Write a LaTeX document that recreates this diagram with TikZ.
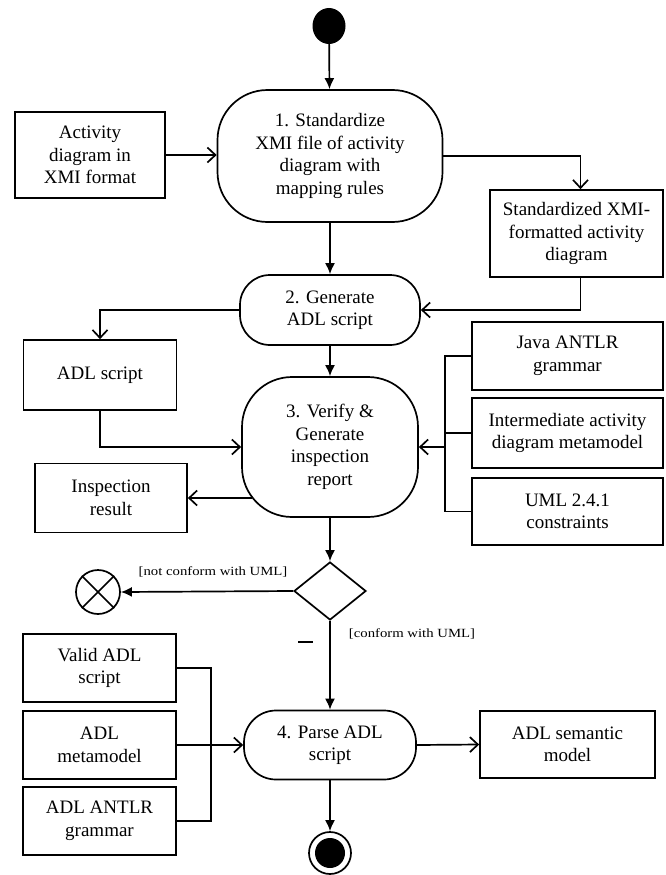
\documentclass[tikz,border=0pt]{standalone}
\usepackage{fontspec}
\setmainfont{Liberation Serif}
\newfontfamily\lblfont{Liberation Serif}[FakeStretch=1.18]
\usetikzlibrary{arrows.meta,shapes.geometric,calc}
\begin{document}
\begin{tikzpicture}[x=1pt,y=-1pt,
  lw/.style={line width=1.7pt},
  box/.style={draw,lw,rectangle,align=center,inner sep=0pt,font=\fontsize{19}{22.5}\selectfont},
  act/.style={draw,lw,align=center,inner sep=0pt,font=\fontsize{19}{22.5}\selectfont},
  flow/.style={lw,-{Latex[length=11pt,width=10pt]}},
  data/.style={lw,-{Straight Barb[length=8pt,width=15pt]}},
  lbl/.style={font=\lblfont\fontsize{12.5}{14}\selectfont,inner sep=0pt}
]
\useasboundingbox (0,0) rectangle (665,875);

% main flow nodes
\node[ellipse,fill,minimum width=33pt,minimum height=36pt,inner sep=0pt] (init) at (329,26) {};
\node[act,rounded corners=50pt,minimum width=225pt,minimum height=132pt] (n1) at (330,156)
  {1. Standardize\\XMI file of activity\\diagram with\\mapping rules};
\node[act,rounded corners=30pt,minimum width=180pt,minimum height=70pt] (n2) at (330,310)
  {2. Generate\\ADL script};
\node[act,rounded corners=50pt,minimum width=176pt,minimum height=140pt] (n3) at (330,447)
  {3. Verify \&\\Generate\\inspection\\report};
\node[draw,lw,diamond,minimum width=72pt,minimum height=58pt,inner sep=0pt] (dia) at (330,591) {};
\node[draw,lw,circle,minimum size=44pt,inner sep=0pt] (ff) at (98,592) {};
\node[act,rounded corners=32pt,minimum width=172pt,minimum height=69pt] (n4) at (330,745)
  {4. Parse ADL\\script};
\node[draw,lw,circle,minimum size=42pt,inner sep=0pt] (fin) at (330,853) {};
\fill (fin.center) circle (15pt);
\draw[lw] (ff.north west) -- (ff.south east);
\draw[lw] (ff.north east) -- (ff.south west);

% object boxes
\node[box,minimum width=150pt,minimum height=86pt] (actd) at (90,155) {Activity\\diagram in\\XMI format};
\node[box,minimum width=173pt,minimum height=87pt] (std) at (576.5,233.5) {Standardized XMI-\\formatted activity\\diagram};
\node[box,minimum width=153pt,minimum height=70pt] (adl) at (100,375) {ADL script};
\node[box,minimum width=191pt,minimum height=68pt] (java) at (567.5,356) {Java ANTLR\\grammar};
\node[box,minimum width=191pt,minimum height=70pt] (inter) at (567.5,433) {Intermediate activity\\diagram metamodel};
\node[box,minimum width=191pt,minimum height=67pt] (uml) at (567.5,511.5) {UML 2.4.1\\constraints};
\node[box,minimum width=152pt,minimum height=69pt] (insp) at (111,498) {Inspection\\result};
\node[box,minimum width=153pt,minimum height=68pt] (valid) at (99.5,668) {Valid ADL\\script};
\node[box,minimum width=153pt,minimum height=68pt] (meta) at (99.5,745) {ADL\\metamodel};
\node[box,minimum width=153pt,minimum height=68pt] (antlr) at (99.5,821) {ADL ANTLR\\grammar};
\node[box,minimum width=175pt,minimum height=67pt] (sem) at (567.5,744.5) {ADL semantic\\model};

% control flow
\draw[flow] (init) -- (n1);
\draw[flow] (n1) -- (n2);
\draw[flow] (n2) -- (n3);
\draw[flow] (n3) -- (dia);
\draw[flow] (dia.west) -- (ff.east);
\draw[flow] (dia) -- (n4);
\draw[flow] (n4) -- (fin);

% object flow
\draw[data] (actd.east) -- (actd.east -| n1.west);
\draw[data] (n1.east) -| ([xshift=4pt]std.north);
\draw[data] ([xshift=4pt]std.south) |- (n2.east);
\draw[data] (n2.west) -| (adl.north);
\draw[data] (adl.south) |- (n3.west);
\coordinate (bus) at (445,447);
\draw[lw] (java.west) -- (java.west -| bus) -- (uml.west -| bus) -- (uml.west);
\draw[lw] (inter.west) -- (inter.west -| bus);
\draw[data] (bus) -- (n3.east);
\draw[data] ([xshift=11pt]n3.west |- insp.east) -- (insp.east);
\coordinate (bus2) at (211,745);
\draw[lw] (valid.east) -- (valid.east -| bus2) -- (antlr.east -| bus2) -- (antlr.east);
\draw[data] (meta.east) -- (n4.west);
\draw[data] (n4.east) -- (sem.west);

% guards
\node[lbl] (g1) at (213,572) {[not conform with UML]};
\node[lbl] (g2) at (412,634) {[conform with UML]};
\draw[line width=2pt] (298,642) -- (313,642);
\end{tikzpicture}
\end{document}
